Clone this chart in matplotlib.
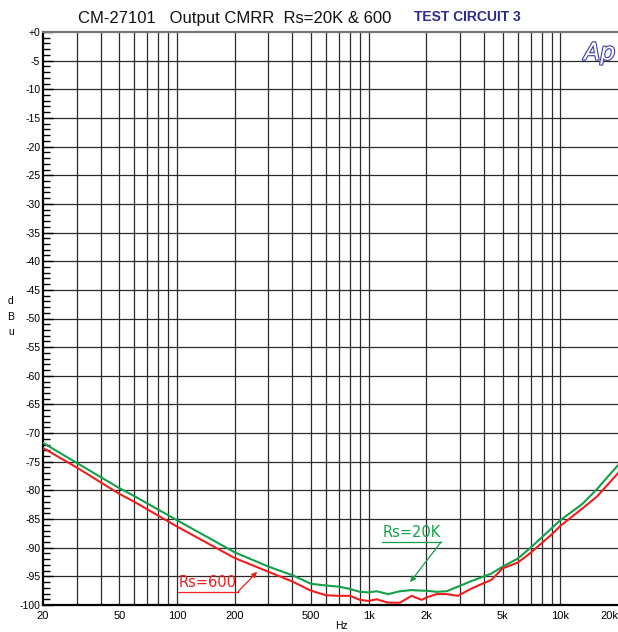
import matplotlib
matplotlib.use("Agg")
import matplotlib.pyplot as plt
import matplotlib.patheffects as pe
from matplotlib.ticker import FixedLocator, NullFormatter, NullLocator

# ---- data ----
freq = [20, 30, 50, 60, 100, 200, 300, 400, 500, 600, 700, 800, 900, 1000, 1100,
        1265, 1456, 1675, 1890, 2000, 2260, 2550, 2920, 3450, 4380, 5000, 6000,
        6940, 9150, 10000, 13100, 15500, 20000]
cmrr_20k = [-71.7, -75.2, -79.6, -81.0, -85.2, -90.8, -93.3, -94.8, -96.3, -96.6,
            -96.8, -97.2, -97.7, -97.8, -97.6, -98.1, -97.6, -97.4, -97.5, -97.5,
            -97.7, -97.6, -96.8, -95.8, -94.5, -93.3, -91.9, -90.1, -86.4, -85.2,
            -82.3, -79.8, -75.6]
cmrr_600 = [-72.6, -76.0, -80.6, -82.0, -86.3, -91.8, -94.2, -95.9, -97.5, -98.3,
            -98.4, -98.4, -99.1, -99.3, -99.0, -99.6, -99.6, -98.4, -99.1, -98.7,
            -98.1, -98.1, -98.4, -97.1, -95.6, -93.6, -92.6, -91.0, -87.5, -86.2,
            -83.1, -81.1, -77.0]

x_ticks = [20, 50, 100, 200, 500, 1000, 2000, 5000, 10000, 20000]
x_ticklabels = ["20", "50", "100", "200", "500", "1k", "2k", "5k", "10k", "20k"]
y_ticks = list(range(0, -101, -5))
y_ticklabels = ["+0"] + [str(v) for v in y_ticks[1:]]

title = "CM-27101   Output CMRR  Rs=20K & 600"
subtitle = "TEST CIRCUIT 3"

GREEN = "#14a048"
RED = "#f01e1e"
FONT = ["Liberation Sans", "DejaVu Sans"]

W, H = 618, 632
fig = plt.figure(figsize=(W / 100, H / 100), dpi=100)
ax = fig.add_axes([43 / W, 1 - 605 / H, (618 - 43) / W, (605 - 32) / H])

ax.set_xscale("log")
ax.set_xlim(20, 20000)
ax.set_ylim(-100, 0)

# grid lines
grid_f = [m * 10 ** e for e in range(1, 5) for m in range(1, 10)]
grid_f = [f for f in grid_f if 20 < f < 20000]
for f in grid_f:
    ax.axvline(f, color="#2a2a2a", lw=0.9, zorder=1)
for v in y_ticks[1:-1]:
    ax.axhline(v, color="#2a2a2a", lw=0.9, zorder=1)

ax.plot(freq, cmrr_20k, color=GREEN, lw=1.5, zorder=3)
ax.plot(freq, cmrr_600, color=RED, lw=1.5, zorder=3)

# ticks
ax.xaxis.set_major_locator(FixedLocator(x_ticks))
ax.xaxis.set_minor_locator(NullLocator())
ax.xaxis.set_minor_formatter(NullFormatter())
ax.set_xticks(x_ticks)
labels = ax.set_xticklabels(x_ticklabels, family=FONT, fontsize=8)
labels[-1].set_ha("right")
ax.tick_params(axis="x", length=0, pad=4)
ax.set_yticks(y_ticks)
ax.set_yticklabels(y_ticklabels, family=FONT, fontsize=7.5)
ax.yaxis.set_minor_locator(FixedLocator(list(range(0, -101, -1))))
ax.tick_params(axis="y", which="major", direction="in", length=7, width=1, pad=2)
ax.tick_params(axis="y", which="minor", direction="in", length=5, width=1)

for s in ["left", "bottom"]:
    ax.spines[s].set_linewidth(1.6)
    ax.spines[s].set_color("black")
ax.spines["top"].set_color("#777777")
ax.spines["top"].set_linewidth(1.6)
ax.spines["right"].set_visible(False)

# annotations
ax.annotate("", xy=(1646, -96.0), xytext=(2390, -89.0),
            arrowprops=dict(arrowstyle="-|>", color=GREEN, lw=0.9,
                            mutation_scale=8, shrinkA=0, shrinkB=0), zorder=4)
ax.plot([1176, 2390], [-89.0, -89.0], color=GREEN, lw=0.9, zorder=4)
ax.text(1185, -88.6, "Rs=20K", color=GREEN, fontsize=10.5, ha="left",
        va="bottom", zorder=4)

ax.annotate("", xy=(262, -94.2), xytext=(208, -97.7),
            arrowprops=dict(arrowstyle="-|>", color=RED, lw=0.9,
                            mutation_scale=8, shrinkA=0, shrinkB=0), zorder=4)
ax.plot([101, 208], [-97.7, -97.7], color=RED, lw=0.9, zorder=4)
ax.text(102, -97.3, "Rs=600", color=RED, fontsize=10.5, ha="left",
        va="bottom", zorder=4)

# Ap logo
ax.text(0.995, 0.985, "Ap", transform=ax.transAxes, ha="right", va="top",
        fontsize=17, style="italic", color="white", zorder=5,
        path_effects=[pe.Stroke(linewidth=1.6, foreground="#3c3ca8"), pe.Normal()])

# titles and labels
fig.text(235 / W, 1 - 18 / H, title, ha="center", va="center",
         fontsize=12, family=FONT, color="#111111")
fig.text(467 / W, 1 - 17 / H, subtitle, ha="center", va="center",
         fontsize=10, family=FONT, weight="bold", color="#2c2c8c")
fig.text(341 / W, 1 - 626 / H, "Hz", ha="center", va="center",
         fontsize=7.5, family=FONT)
for i, ch in enumerate("dBu"):
    fig.text(11 / W, 1 - (301 + i * 15.5) / H, ch, ha="center", va="center",
             fontsize=7.5, family=FONT)

fig.savefig("out.png", dpi=100)
